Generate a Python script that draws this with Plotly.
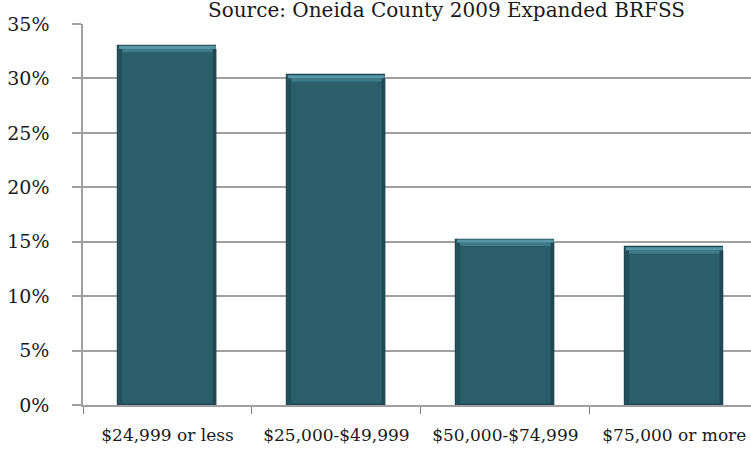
import plotly.graph_objects as go

# Income groups and share of respondents
categories = ["$24,999 or less", "$25,000-$49,999", "$50,000-$74,999", "$75,000 or more"]
values = [33.0, 30.3, 15.2, 14.5]
tick_vals = [0, 5, 10, 15, 20, 25, 30, 35]
tick_text = ["0%", "5%", "10%", "15%", "20%", "25%", "30%", "35%"]
title_text = "Source: Oneida County 2009 Expanded BRFSS"

BAR_W = 0.58
SERIF = "DejaVu Serif, Liberation Serif, serif"

fig = go.Figure()
fig.add_trace(go.Bar(
    x=categories,
    y=values,
    width=BAR_W,
    marker=dict(color="#2A5E6B", line=dict(color="#1D4651", width=1.2)),
    hoverinfo="skip",
))

# Bevel: lighter top edge and slightly darker side bands on each bar
shapes = []
for i, v in enumerate(values):
    shapes.append(dict(type="rect", xref="x", yref="y",
                       x0=i - BAR_W / 2 + 0.004, x1=i + BAR_W / 2 - 0.004,
                       y0=v - 0.3, y1=v,
                       fillcolor="#5797A5", line=dict(width=0), layer="above"))
    shapes.append(dict(type="rect", xref="x", yref="y",
                       x0=i - BAR_W / 2 + 0.004, x1=i + BAR_W / 2 - 0.004,
                       y0=v - 0.6, y1=v - 0.3,
                       fillcolor="#3E7A88", line=dict(width=0), layer="above"))
    shapes.append(dict(type="rect", xref="x", yref="y",
                       x0=i - BAR_W / 2, x1=i - BAR_W / 2 + 0.022,
                       y0=0, y1=v - 0.3,
                       fillcolor="#234F5A", line=dict(width=0), layer="above"))
    shapes.append(dict(type="rect", xref="x", yref="y",
                       x0=i + BAR_W / 2 - 0.022, x1=i + BAR_W / 2,
                       y0=0, y1=v - 0.3,
                       fillcolor="#1F4853", line=dict(width=0), layer="above"))

fig.update_layout(
    width=751, height=451,
    margin=dict(l=83, r=0, t=24, b=46),
    paper_bgcolor="white", plot_bgcolor="white",
    showlegend=False,
    shapes=shapes,
    bargap=0,
    annotations=[dict(
        text=title_text, xref="paper", yref="paper",
        x=(446 - 83) / (751 - 83), y=1, xanchor="center", yanchor="bottom",
        yshift=0, showarrow=False,
        font=dict(family=SERIF, size=20, color="#1a1a1a"),
    )],
    xaxis=dict(
        type="category",
        range=[-0.5, 3.454],
        tickson="boundaries",
        ticks="outside", ticklen=7, tickcolor="#7f7f7f", tickwidth=1,
        ticklabelstandoff=14,
        showline=True, linecolor="#a0a0a0", linewidth=1.5,
        showgrid=False, zeroline=False,
        tickfont=dict(family=SERIF, size=17, color="#1a1a1a"),
        fixedrange=True,
    ),
    yaxis=dict(
        range=[0, 35],
        tickmode="array",
        tickvals=tick_vals,
        ticktext=tick_text,
        ticks="outside", ticklen=9, tickcolor="#a0a0a0", tickwidth=1.5,
        ticklabelstandoff=19,
        showline=True, linecolor="#a0a0a0", linewidth=1.5,
        showgrid=True, gridcolor="#a0a0a0", gridwidth=1.5,
        zeroline=False,
        tickfont=dict(family=SERIF, size=19, color="#1a1a1a"),
        fixedrange=True,
    ),
)

fig.write_html("out.html")
